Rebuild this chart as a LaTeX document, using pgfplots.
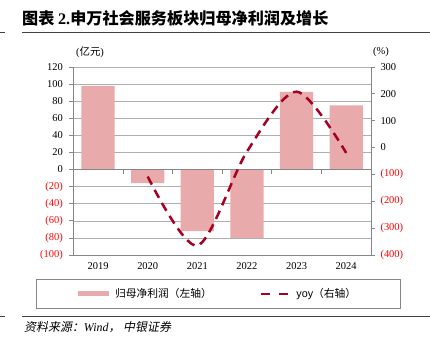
\documentclass[border=0pt]{standalone}
\usepackage{fontspec}
\setmainfont{Liberation Serif}
\newfontfamily\cjk{Noto Sans CJK SC}
\newfontfamily\cjkit[FakeSlant=0.2]{Noto Sans CJK SC}
\newfontfamily\arial{Liberation Sans}
\usepackage{pgfplots}
\pgfplotsset{compat=1.18}
\definecolor{barcol}{RGB}{232,170,170}
\definecolor{linecol}{RGB}{165,0,33}
\definecolor{axgray}{RGB}{134,134,134}
\definecolor{gridgray}{RGB}{175,175,175}
\begin{document}
\begin{tikzpicture}[x=1bp,y=1bp]
\useasboundingbox (0,0) rectangle (430,346);
% title
\node[anchor=west, inner sep=0pt, font=\fontsize{16.2}{16.2}\selectfont\bfseries] at (22,328) {\cjk 图表 \rmfamily 2.\cjk 申万社会服务板块归母净利润及增长};
\draw[line width=0.8bp, black!75] (22,313.7) -- (430,313.7);
\draw[line width=0.8bp, black!75] (0,313.7) -- (5,313.7);
\draw[line width=0.8bp, black!75] (22,29.3) -- (430,29.3);
\draw[line width=0.8bp, black!75] (0,29.3) -- (5,29.3);
\node[anchor=west, inner sep=0pt, font=\fontsize{12}{12}\selectfont] at (24,19) {\cjkit 资料来源：\rmfamily\itshape Wind\cjkit ，\ 中银证券};
% unit labels
\node[font=\fontsize{10.5}{10.5}\selectfont] at (90,294) {(\cjk 亿元\rmfamily )};
\node[font=\fontsize{10.5}{10.5}\selectfont] at (381,294) {(\%)};

\begin{axis}[
  at={(73.3bp,91bp)}, anchor=south west,
  width=297.7bp, height=188bp, scale only axis,
  xmin=-0.5, xmax=5.5, ymin=-100, ymax=120,
  axis y line*=left, axis x line*=bottom,
  axis line style={axgray, line width=0.8bp},
  xtick={0,1,2,3,4,5},
  xticklabels={2019,2020,2021,2022,2023,2024},
  x tick style={draw=none},
  ytick={-100,-80,-60,-40,-20,0,20,40,60,80,100,120},
  yticklabels={\textcolor{red}{(100)},\textcolor{red}{(80)},\textcolor{red}{(60)},\textcolor{red}{(40)},\textcolor{red}{(20)},0,20,40,60,80,100,120},
  y tick style={axgray, line width=0.8bp},
  tick align=outside, major tick length=4bp,
  ymajorgrids, grid style={gridgray, line width=0.6bp},
  tick label style={font=\fontsize{10.5}{10.5}\selectfont},
  yticklabel style={xshift=-3bp},
  legend columns=2,
  legend style={at={(0.4866,-0.2074)}, anchor=center, draw=axgray, line width=0.6bp,
    inner xsep=42bp, inner ysep=7bp,
    font=\fontsize{10.8}{10.8}\selectfont,
    /tikz/every even column/.append style={column sep=46bp},
    /tikz/every odd column/.append style={column sep=4bp}},
]
\addplot[ybar, bar width=0.67, fill=barcol, draw=none,
  legend image code/.code={\fill[barcol] (0bp,-2.5bp) rectangle (31bp,2.5bp);}]
  coordinates {(0,98) (1,-16) (2,-72) (3,-80) (4,91) (5,75)};
\addlegendentry{\cjk 归母净利润（左轴）}
\addlegendimage{legend image code/.code={\draw[linecol, line width=2.5bp, dash pattern=on 9bp off 9bp] (0bp,0bp) -- (28bp,0bp);}}
\addlegendentry{\arial yoy\cjk （右轴）}
\draw[axgray, line width=0.8bp] (axis cs:-0.5,0) -- (axis cs:5.5,0);
\pgfplotsinvokeforeach{0.5,1.5,2.5,3.5,4.5,5.5}{\draw[axgray, line width=0.8bp] (axis cs:#1,0) -- ++(0pt,-4bp);}
\end{axis}

\begin{axis}[
  at={(73.3bp,91bp)}, anchor=south west,
  width=297.7bp, height=188bp, scale only axis,
  xmin=-0.5, xmax=5.5, ymin=-400, ymax=300,
  axis y line*=right, axis x line=none,
  axis line style={axgray, line width=0.8bp},
  ytick={-400,-300,-200,-100,0,100,200,300},
  yticklabels={\textcolor{red}{(400)},\textcolor{red}{(300)},\textcolor{red}{(200)},\textcolor{red}{(100)},0,100,200,300},
  y tick style={axgray, line width=0.8bp},
  tick align=outside, major tick length=4bp,
  tick label style={font=\fontsize{10.5}{10.5}\selectfont},
  yticklabel style={xshift=2bp},
]
\addplot[linecol, line width=2.5bp, dash pattern=on 9bp off 6bp, smooth, no markers]
  coordinates {(1,-108) (2,-365) (3,-15) (4,208) (5,-20)};
\end{axis}
\end{tikzpicture}
\end{document}
